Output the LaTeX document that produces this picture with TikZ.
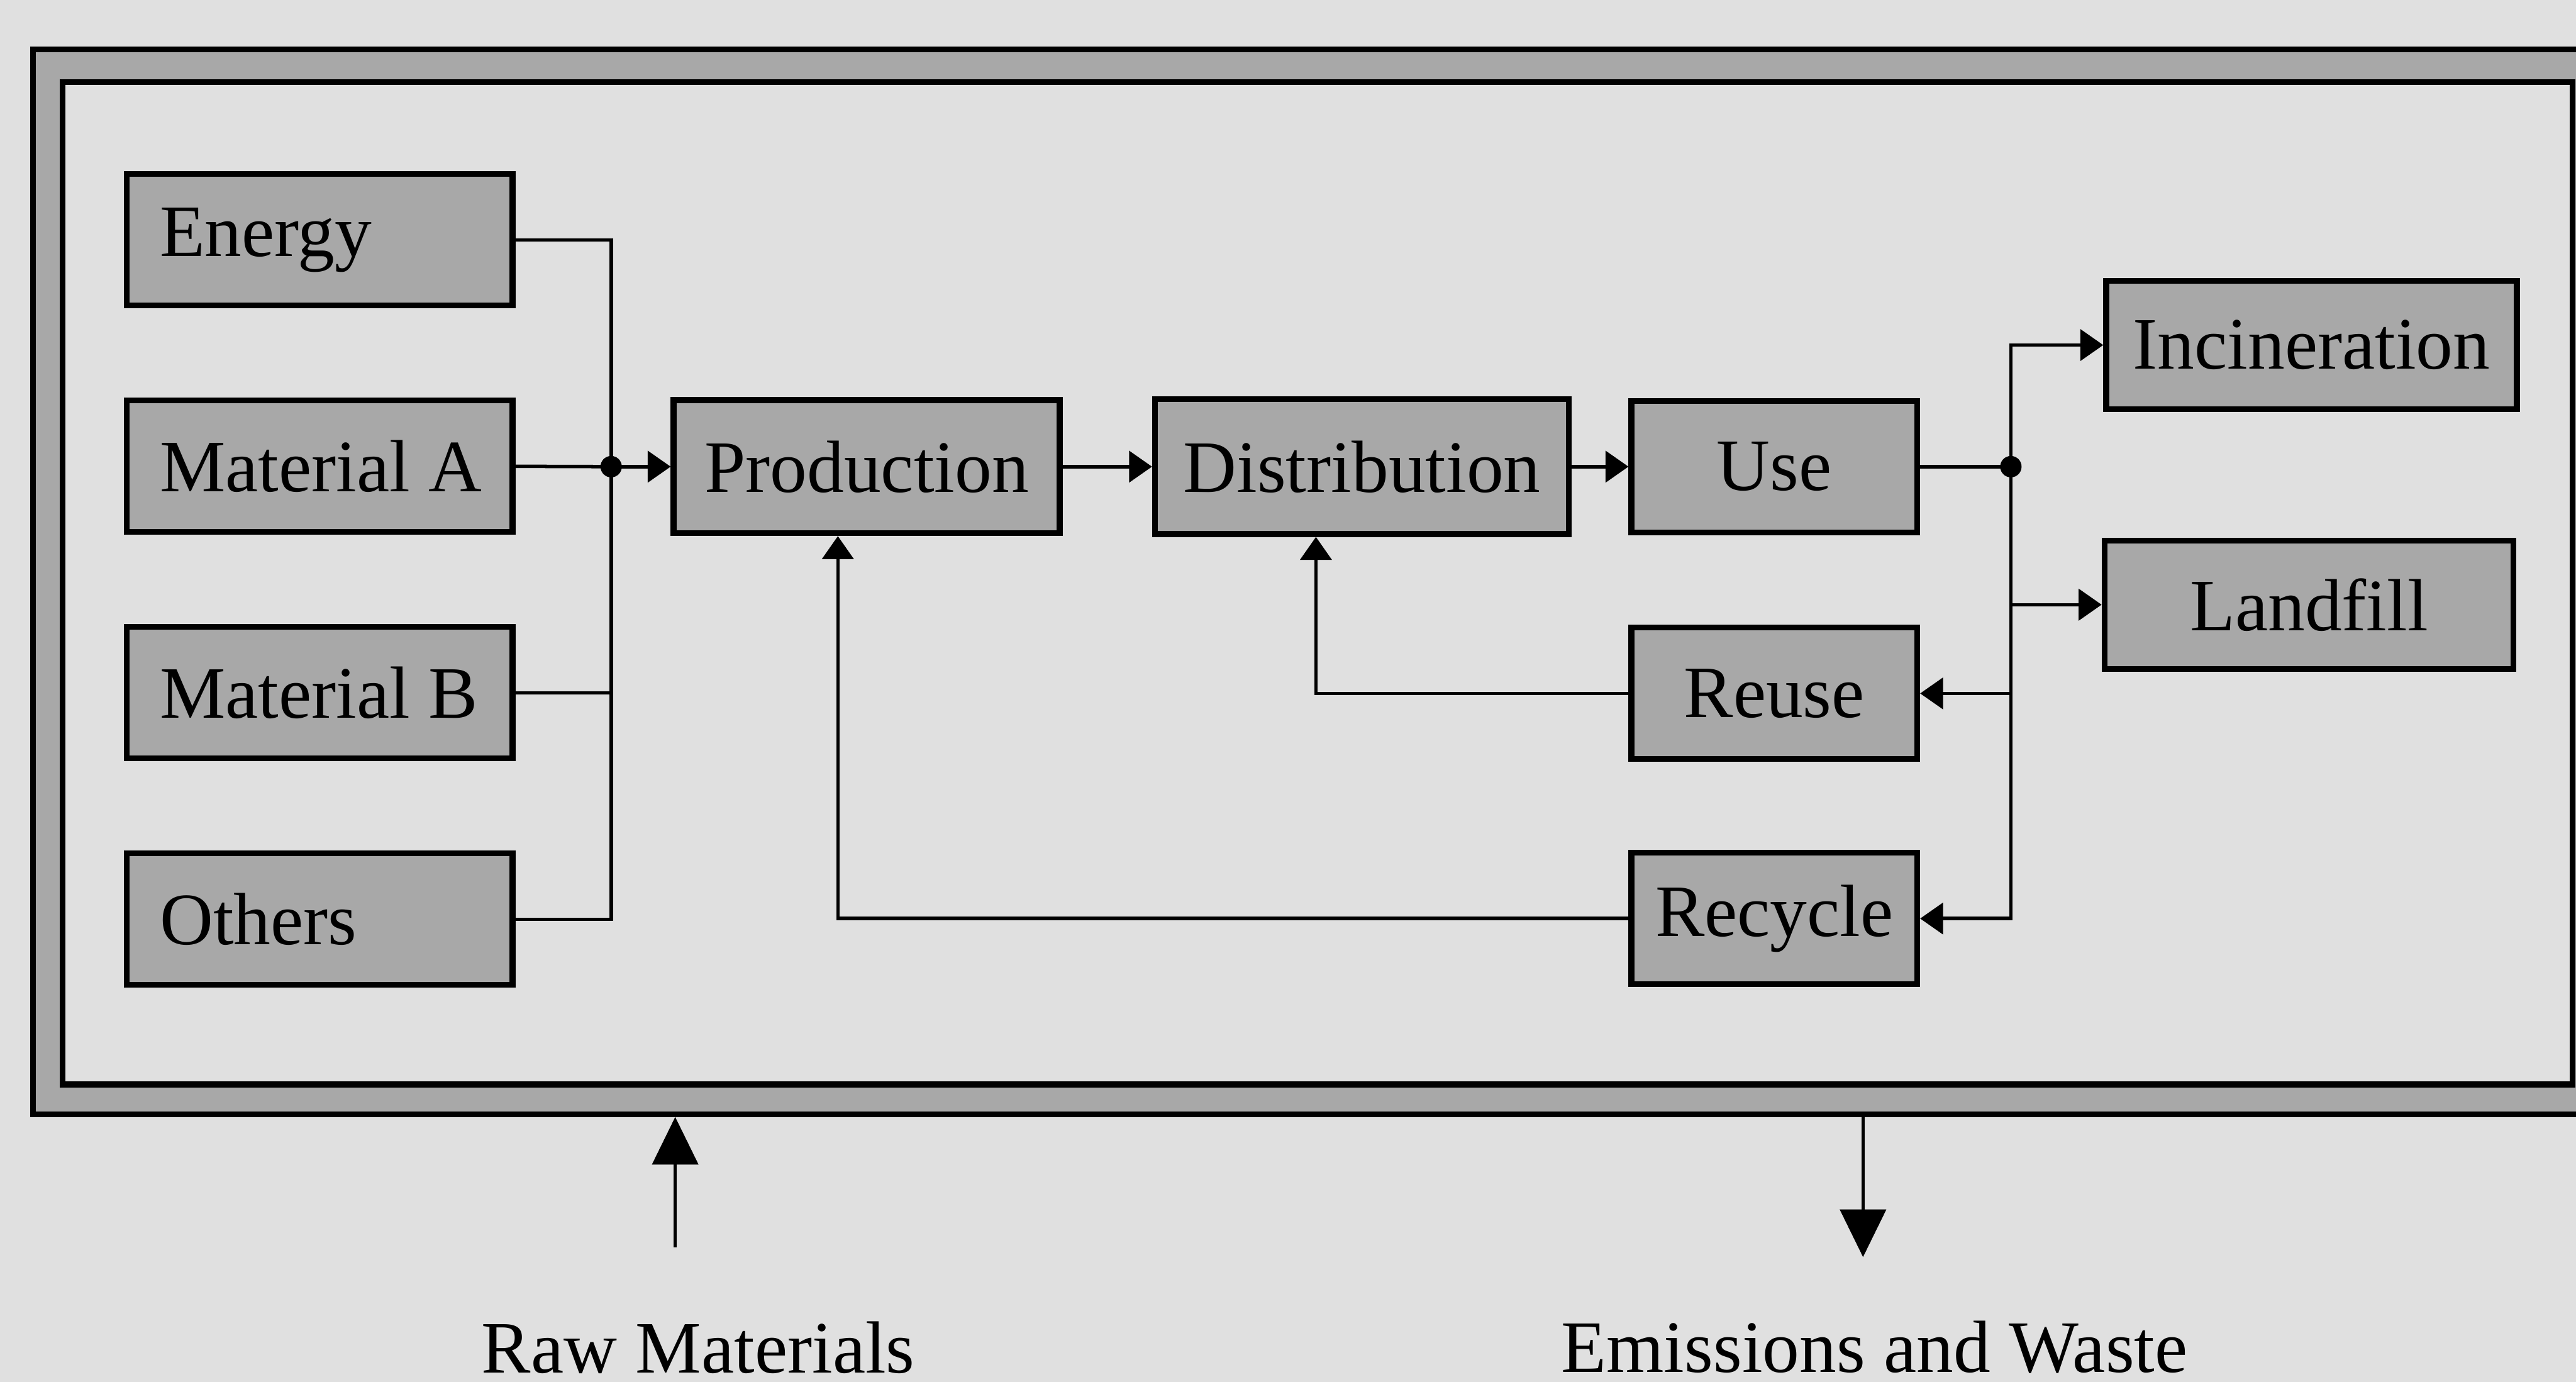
\documentclass[tikz,border=0pt]{standalone}
\usepackage{fontspec}
\setmainfont{Liberation Serif}
\usetikzlibrary{calc,positioning,arrows.meta}

\definecolor{paper}{gray}{0.88}
\definecolor{boxgray}{gray}{0.66}

\begin{document}
\begin{tikzpicture}[
  line width=0.6pt,
  >={Triangle[length=1.4mm,width=1.9mm]},
  box/.style={draw,line width=1pt,fill=boxgray,rectangle,inner sep=0pt,
    minimum height=0.8cm,font=\fontsize{12.8}{15}\selectfont},
  leftbox/.style={box,minimum width=2.35cm},
  bigarrow/.style={line width=0.5pt,-{Triangle[length=2.9mm,width=2.8mm]}},
  dot/.style={circle,fill=black,inner sep=0pt,minimum size=1.3mm},
  ]

  \useasboundingbox[fill=paper] (0,0) rectangle (15.68,-8.41);

  % double frame round the whole life cycle
  \node (outer) [draw,line width=1pt,fill=boxgray,rectangle,minimum width=15.7cm,minimum height=6.48cm] at (8.05,-3.54) {};
  \node (inner) [draw,line width=1pt,fill=paper,rectangle,minimum width=15.28cm,minimum height=6.1cm] at (8.02,-3.55) {};

  \foreach \n/\t [count=\i from 0] in {energy/Energy,matA/Material A,matB/Material B,others/Others}
  {
    \node (\n) [leftbox] at($(1.945,-1.46)+(0,-1.378*\i)$) {};
    \node [font=\fontsize{12.8}{15}\selectfont,inner sep=0pt,anchor=west] at([xshift=2.1mm]\n.west) {\t};
  }

  \node (prod) [box,minimum width=2.35cm,minimum height=0.81cm] at(5.275,-2.84) {Production};
  \node (dist) [box,minimum width=2.52cm,minimum height=0.82cm] at(8.29,-2.84) {Distribution};
  \node (use) [box,minimum width=1.74cm] at(10.8,-2.84) {Use};
  \node (reuse) [box,minimum width=1.74cm] at(10.8,-4.22) {Reuse};
  \node (recycle) [box,minimum width=1.74cm] at(10.8,-5.59) {Recycle};
  \node (incin) [box,minimum width=2.5cm,minimum height=0.78cm] at(14.07,-2.1) {Incineration};
  \node (landfill) [box,minimum width=2.49cm,minimum height=0.78cm] at(14.055,-3.68) {Landfill};

  % inputs gathered on one bus
  \coordinate (jin) at(3.72,-2.84);
  \draw (energy.east) -| (jin);
  \draw (others.east) -| (jin);
  \draw (matB.east) -- (matB.east -| jin);
  \draw (matA.east) -- (jin);
  \node [dot] at(jin) {};
  \draw[->] (jin) -- (prod.west);

  \draw[->] (prod) -- (dist);
  \draw[->] (dist) -- (use);

  % end of life
  \coordinate (jout) at(12.24,-2.84);
  \draw (use.east) -- (jout);
  \node [dot] at(jout) {};
  \draw[->] (jout) |- (incin.west);
  \draw[->] (jout) |- (landfill.west);
  \draw[->] (jout) |- (reuse.east);
  \draw[->] (jout) |- (recycle.east);

  \draw[->] (reuse.west) -| ([xshift=-2.8mm]dist.south);
  \draw[->] (recycle.west) -| ([xshift=-1.75mm]prod.south);

  \node (raw) [font=\fontsize{12.8}{15}\selectfont] at(4.25,-8.2) {Raw Materials};
  \node (waste) [font=\fontsize{12.8}{15}\selectfont] at(11.41,-8.2) {Emissions and Waste};

  \coordinate (rawtail) at(4.11,-7.59);
  \coordinate (wastetip) at(11.34,-7.65);
  \draw[bigarrow] (rawtail) -- (rawtail |- outer.south);
  \draw[bigarrow] (wastetip |- outer.south) -- (wastetip);

\end{tikzpicture}
\end{document}
